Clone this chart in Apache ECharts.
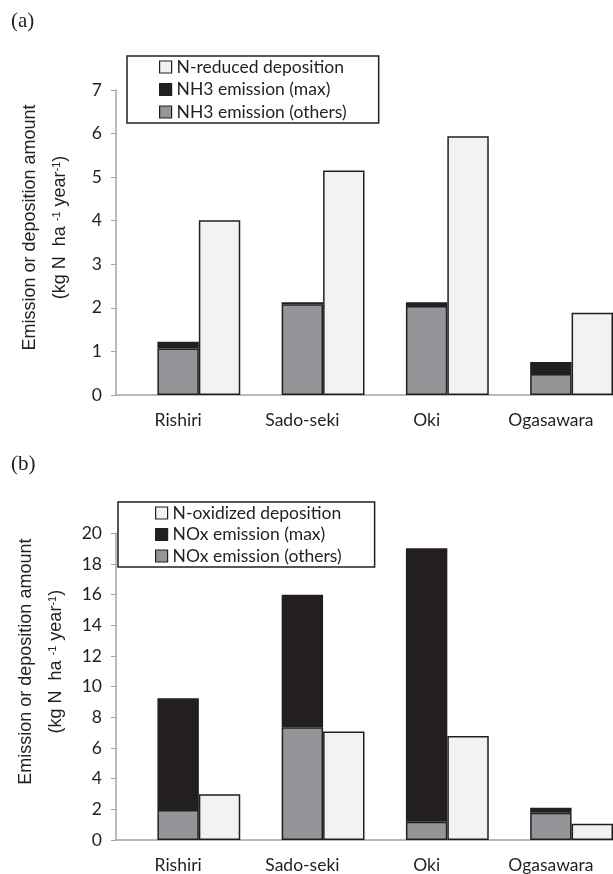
<!DOCTYPE html>
<html>
<head>
<meta charset="utf-8">
<script src="https://cdn.jsdelivr.net/npm/echarts@6/dist/echarts.min.js"></script>
<style>
  html, body { margin: 0; padding: 0; background: #fff; }
  #chart { width: 613px; height: 874px; }
</style>
</head>
<body>
<div id="chart"></div>
<script>
// Monitoring sites
const sites = ['Rishiri', 'Sado-seki', 'Oki', 'Ogasawara'];

// (a) reduced nitrogen, kg N ha-1 year-1
const nh3Others = [1.07, 2.08, 2.04, 0.48];
const nh3Max = [0.15, 0.05, 0.09, 0.28];
const nReducedDep = [4.01, 5.15, 5.94, 1.89];

// (b) oxidized nitrogen, kg N ha-1 year-1
const noxOthers = [1.95, 7.36, 1.19, 1.78];
const noxMax = [7.30, 8.64, 17.84, 0.32];
const nOxidizedDep = [2.98, 7.07, 6.79, 1.06];

// y-axis ticks
const yTicksA = { min: 0, max: 7, interval: 1 };
const yTicksB = { min: 0, max: 20, interval: 2 };

// Each site takes three slots on the axis: spacer, emission stack, deposition
const slots = [];
sites.forEach(function (s, i) { slots.push('gap' + i, s, s + ' dep'); });
function emissionSlots(vals) {
  const out = [];
  vals.forEach(function (v) { out.push(null, v, null); });
  return out;
}
function depositionSlots(vals) {
  const out = [];
  vals.forEach(function (v) { out.push(null, null, v); });
  return out;
}

const INK = '#231f20';
const AXIS = '#a3a3a3';
const GREY = '#939598';
const LIGHT = '#f1f2f4';
const SANS = 'Lato';

function xAxisFor(gridIndex) {
  return {
    type: 'category', gridIndex: gridIndex, data: slots,
    axisLine: { lineStyle: { color: AXIS, width: 1.5 } },
    axisTick: { interval: 0, length: 5, lineStyle: { color: AXIS, width: 1 } },
    axisLabel: {
      interval: 0, margin: 16, color: INK, fontFamily: SANS, fontSize: 17.5,
      formatter: function (v) { return sites.indexOf(v) >= 0 ? v : ''; }
    }
  };
}
function yAxisFor(gridIndex, ticks, shift) {
  return {
    type: 'value', gridIndex: gridIndex, min: ticks.min, max: ticks.max, interval: ticks.interval,
    splitLine: { show: false },
    axisLine: { show: true, lineStyle: { color: AXIS, width: 1.5 } },
    axisTick: { show: true, length: 5, lineStyle: { color: AXIS, width: 1 } },
    axisLabel: { margin: 14, color: INK, fontFamily: SANS, fontSize: 17.5 },
    name: 'Emission or deposition amount\n(kg N  ha {sup|-1} year{sup|-1})',
    nameLocation: 'middle', nameRotate: 90, nameGap: 41,
    nameTextStyle: {
      color: INK, fontFamily: 'Liberation Sans', fontSize: 18, lineHeight: 30,
      padding: [0, 0, 0, shift],
      rich: { sup: { fontSize: 11, fontFamily: 'Liberation Sans', color: INK, padding: [0, 0, 6, 0] } }
    }
  };
}
function barSeries(name, data, color, axisIndex, stack) {
  const s = {
    type: 'bar', name: name, data: data,
    xAxisIndex: axisIndex, yAxisIndex: axisIndex,
    barWidth: '100%', barCategoryGap: '0%', barGap: '-100%',
    itemStyle: { color: color, borderColor: INK, borderWidth: 1.5 },
    emphasis: { disabled: true }
  };
  if (stack) s.stack = stack;
  return s;
}
function legendFor(names, top, lineHeight, pad) {
  return {
    orient: 'vertical', left: pad.left, top: top, data: names,
    icon: 'rect', itemWidth: 12, itemHeight: 12, itemGap: 2.5,
    padding: pad.padding,
    borderColor: INK, borderWidth: 1.5,
    textStyle: { color: INK, fontFamily: SANS, fontSize: 17.5, lineHeight: lineHeight },
    itemStyle: { borderColor: INK, borderWidth: 1.2 },
    selectedMode: false
  };
}

const chart = echarts.init(document.getElementById('chart'), null, { renderer: 'canvas' });
chart.setOption({
  animation: false,
  backgroundColor: '#fff',
  grid: [
    { left: 116, top: 90, width: 501, height: 305 },
    { left: 116, top: 533.3, width: 501, height: 308.4 }
  ],
  xAxis: [xAxisFor(0), xAxisFor(1)],
  yAxis: [yAxisFor(0, yTicksA, 30), yAxisFor(1, yTicksB, 50)],
  legend: [
    legendFor(['N-reduced deposition', 'NH3 emission (max)', 'NH3 emission (others)'], 56, 20,
      { left: 127, padding: [1, 32, 1, 32] }),
    legendFor(['N-oxidized deposition', 'NOx emission (max)', 'NOx emission (others)'], 502, 19,
      { left: 118, padding: [1.5, 33, 1.5, 37] })
  ],
  series: [
    barSeries('NH3 emission (others)', emissionSlots(nh3Others), GREY, 0, 'nh3'),
    barSeries('NH3 emission (max)', emissionSlots(nh3Max), INK, 0, 'nh3'),
    barSeries('N-reduced deposition', depositionSlots(nReducedDep), LIGHT, 0),
    barSeries('NOx emission (others)', emissionSlots(noxOthers), GREY, 1, 'nox'),
    barSeries('NOx emission (max)', emissionSlots(noxMax), INK, 1, 'nox'),
    barSeries('N-oxidized deposition', depositionSlots(nOxidizedDep), LIGHT, 1)
  ],
  graphic: [
    { type: 'text', left: 11, top: 11, style: { text: '(a)', font: '21px "Liberation Serif"', fill: INK } },
    { type: 'text', left: 11, top: 454, style: { text: '(b)', font: '21px "Liberation Serif"', fill: INK } }
  ]
});
</script>
</body>
</html>
